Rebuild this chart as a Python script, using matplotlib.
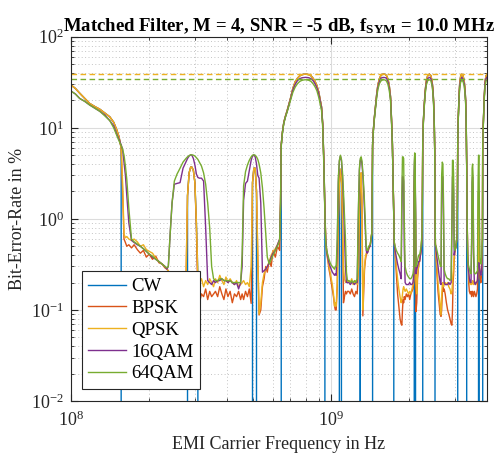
import numpy as np
import matplotlib
matplotlib.use("Agg")
import matplotlib.pyplot as plt
from matplotlib.ticker import LogLocator, NullFormatter

plt.rcParams['font.family'] = 'Liberation Serif'
plt.rcParams['mathtext.fontset'] = 'custom'
plt.rcParams['mathtext.rm'] = 'Liberation Serif'
plt.rcParams['mathtext.it'] = 'Liberation Serif:italic'
plt.rcParams['mathtext.bf'] = 'Liberation Serif:bold'

# EMI carrier frequency in MHz (segments: floor / small humps / big humps)
freq_mhz = (
    [100, 104, 108, 113, 118, 124, 129, 135, 141, 146, 150, 153, 156, 158, 160, 162, 164, 167, 171]
    + [175, 180, 185, 190, 195, 200, 206, 212, 218, 224, 230, 234]
    + [237, 241, 245, 250, 256, 263, 270, 277, 281, 285, 289, 292, 296, 300, 304, 308, 312, 318, 324, 330, 336, 342, 348, 354]
    + [360, 367, 374, 381, 388, 395, 402, 410, 418, 426, 434, 442, 450]
    + [456, 462, 470, 478, 486, 494, 500, 506, 512, 518, 524, 530, 538, 546, 554, 562, 570, 580, 590, 600, 612, 624, 636]
    + [641, 645, 652, 660, 670, 680, 690, 700, 715, 730, 745, 760, 775, 790, 800, 810, 825, 840, 855, 870, 885, 900, 912, 922, 932, 942, 950, 957]
    + [965, 975, 985, 995, 1005, 1015, 1025, 1035, 1042]
    + [1050, 1060, 1070, 1080, 1090, 1100, 1110, 1120, 1130, 1140, 1150, 1160]
    + [1175, 1190, 1205, 1220, 1235, 1250, 1265, 1280, 1290, 1300, 1310, 1320, 1330, 1340, 1350, 1360, 1370, 1380, 1390, 1400]
    + [1420, 1440, 1450, 1460, 1475, 1490, 1505, 1520, 1540, 1560, 1580, 1600, 1620, 1640, 1660, 1680, 1700, 1714, 1728, 1741, 1750, 1758]
    + [1770, 1790, 1810, 1830, 1850, 1868, 1880, 1890, 1900, 1910, 1920, 1935, 1955, 1975, 1995, 2015, 2035, 2055, 2075, 2090, 2098, 2106, 2114, 2122, 2130, 2145, 2160, 2180]
    + [2200, 2230, 2250, 2262, 2275, 2290, 2310, 2335, 2365, 2400, 2430, 2455, 2475, 2490, 2505, 2515, 2522, 2530]
    + [2545, 2565, 2590, 2615, 2640, 2660, 2675, 2690, 2705, 2720, 2735, 2760, 2790, 2820, 2850, 2880, 2910, 2930, 2945, 2960, 2975, 2990]
    + [3010, 3040, 3070, 3085, 3100, 3120, 3140, 3165, 3200, 3235, 3265, 3290, 3310, 3325, 3340, 3355, 3370]
    + [3385, 3400, 3420, 3445, 3470, 3490, 3505, 3520, 3535, 3550, 3575, 3600, 3625, 3650, 3675, 3695, 3710, 3725, 3740, 3760, 3790, 3820, 3840, 3850, 3870, 3900, 3930, 3965, 4000]
)

# bit error rate in %, 0 = no error
ber_cw = (
    [29.5, 27, 24, 21, 18.5, 17, 16, 14.5, 13.2, 11.5, 9.5, 8, 6, 0, 0, 0, 0, 0, 0]
    + [0] * 12
    + [0, 0, 0, 0, 0, 0, 0, 0, 1.8, 3.2, 3.7, 3.7, 3.4, 2.5, 0.9, 0.24, 0, 0, 0, 0, 0, 0, 0, 0]
    + [0] * 13
    + [0, 0, 0, 0, 0, 0, 2.5, 3.6, 3.6, 2.0] + [0] * 13
    + [0, 6.5, 9, 11.5, 13.5, 15.5, 18, 21, 27, 32, 35, 37.2, 38.3, 38.7, 38.8, 38.7, 38.3, 37.2, 35, 32.5, 29, 24.5, 20, 17, 11, 4, 1.2, 0]
    + [0] * 9
    + [0, 0, 0, 2.5, 3.5, 2.8, 0, 0, 0, 0, 0, 0]
    + [0] * 9 + [2.8] + [0] * 10
    + [0, 0, 6.5, 9.5, 13.5, 18, 24, 29.5, 34.5, 37.5, 38.6, 38.8, 38.6, 37.5, 34.5, 29.5, 22, 13, 7, 2.3, 1.0, 0]
    + [0] * 20 + [2.0, 3.5, 3.5, 1.0, 0, 0, 0, 0]
    + [0, 0, 0, 7, 12, 17, 25, 33, 37.5, 38.8, 37.5, 33, 27, 20, 12, 6, 1.5, 0]
    + [0] * 22
    + [0, 0, 0, 7, 13, 22, 31, 36.5, 38.8, 37, 33, 27, 20, 12, 4, 0, 0]
    + [0] * 16 + [2.0, 2.0, 0, 0, 0, 0, 0, 6.5, 11, 21, 32, 37.3, 38.8]
)

ber_bpsk = (
    [29.5, 27, 24, 21, 18.5, 17, 16, 14.5, 13.2, 11.5, 9.5, 8, 6, 2.0, 0.6, 0.55, 0.5, 0.52, 0.48]
    + [0.52, 0.46, 0.42, 0.45, 0.38, 0.41, 0.36, 0.39, 0.33, 0.32, 0.29, 0.28]
    + [0.27, 0.17, 0.15, 0.16, 0.15, 0.15, 0.16, 0.18, 1.8, 3.2, 3.7, 3.7, 3.4, 2.5, 0.8, 0.13, 0.118, 0.15, 0.14, 0.17, 0.13, 0.16, 0.14, 0.15]
    + [0.16, 0.14, 0.18, 0.15, 0.13, 0.17, 0.14, 0.16, 0.12, 0.15, 0.14, 0.16, 0.13]
    + [0.15, 0.13, 0.16, 0.14, 0.17, 0.118, 2.5, 3.6, 3.6, 2.0, 0.35, 0.088, 0.1, 0.18, 0.22, 0.3, 0.26, 0.35, 0.3, 0.45, 0.38, 0.5, 0.45]
    + [1.5, 6.5, 9, 11.5, 13.5, 15.5, 18, 21, 27, 32, 35, 37.2, 38.3, 38.7, 38.8, 38.7, 38.3, 37.2, 35, 32.5, 29, 24.5, 20, 17, 11, 4, 1.2, 0.6]
    + [0.42, 0.35, 0.28, 0.24, 0.2, 0.17, 0.14, 0.11, 0.1]
    + [0.1, 0.18, 1.0, 2.5, 3.5, 2.8, 1.0, 0.12, 0.14, 0.16, 0.15, 0.16]
    + [0.16, 0.15, 0.17, 0.15, 0.14, 0.16, 0.15, 0.3, 1.2, 2.8, 3.2, 1.3, 0.086, 0.15, 0.28, 0.35, 0.4, 0.42, 0.44, 0.46]
    + [0.52, 0.7, 6.5, 9.5, 13.5, 18, 24, 29.5, 34.5, 37.5, 38.6, 38.8, 38.6, 37.5, 34.5, 29.5, 22, 13, 7, 2.3, 1.0, 0.55]
    + [0.42, 0.25, 0.15, 0.11, 0.08, 0.07, 0.068, 0.1, 0.13, 0.12, 0.14, 0.13, 0.15, 0.14, 0.15, 0.13, 0.15, 0.16, 0.17, 0.2, 2.0, 3.5, 3.5, 0.9, 0.096, 0.12, 0.22, 0.3]
    + [0.35, 0.45, 0.7, 7, 12, 17, 25, 33, 37.5, 38.8, 37.5, 33, 27, 20, 12, 6, 1.5, 0.55]
    + [0.38, 0.25, 0.16, 0.12, 0.09, 0.085, 0.1, 0.15, 0.18, 0.16, 0.17, 0.15, 0.12, 0.1, 0.09, 0.08, 0.07, 0.068, 0.1, 0.2, 0.25, 0.35]
    + [0.45, 0.5, 0.7, 7, 13, 22, 31, 36.5, 38.8, 37, 33, 27, 20, 12, 4, 0.9, 0.4]
    + [0.33, 0.2, 0.16, 0.15, 0.16, 0.14, 0.15, 0.16, 0.15, 0.14, 0.16, 0.15, 0.14, 0.15, 0.17, 0.3, 2.0, 2.0, 0.3, 0.22, 0.2, 0.28, 0.6, 6.5, 11, 21, 32, 37.3, 38.8]
)

ber_qpsk = (
    [29.5, 27, 24, 21, 18.5, 17, 16, 14.5, 13.2, 11.5, 9.5, 8, 6, 2.5, 0.68, 0.62, 0.64, 0.6, 0.58]
    + [0.6, 0.56, 0.5, 0.52, 0.46, 0.44, 0.42, 0.37, 0.34, 0.32, 0.30, 0.28]
    + [0.27, 0.2, 0.18, 0.19, 0.18, 0.17, 0.18, 0.2, 1.8, 3.2, 3.7, 3.7, 3.4, 2.5, 0.9, 0.24, 0.2, 0.22, 0.18, 0.21, 0.19, 0.22, 0.2, 0.18]
    + [0.22, 0.2, 0.24, 0.21, 0.19, 0.23, 0.2, 0.22, 0.2, 0.19, 0.21, 0.18, 0.19]
    + [0.2, 0.21, 0.19, 0.2, 0.18, 0.3, 2.5, 3.6, 3.6, 2.0, 0.4, 0.09, 0.12, 0.2, 0.25, 0.28, 0.3, 0.34, 0.4, 0.44, 0.47, 0.52, 0.6]
    + [1.5, 6.5, 9, 11.5, 13.5, 15.5, 18, 21, 27, 32, 35, 37.2, 38.3, 38.7, 38.8, 38.7, 38.3, 37.2, 35, 32.5, 29, 24.5, 20, 17, 11, 4, 1.2, 0.6]
    + [0.45, 0.38, 0.3, 0.26, 0.22, 0.19, 0.15, 0.11, 0.12]
    + [0.11, 0.2, 1.0, 2.5, 3.5, 2.8, 1.0, 0.3, 0.22, 0.2, 0.21, 0.2]
    + [0.21, 0.2, 0.22, 0.19, 0.2, 0.21, 0.19, 0.3, 1.2, 2.8, 3.2, 1.5, 0.1, 0.2, 0.3, 0.38, 0.42, 0.44, 0.45, 0.48]
    + [0.52, 0.7, 6.5, 9.5, 13.5, 18, 24, 29.5, 34.5, 37.5, 38.6, 38.8, 38.6, 37.5, 34.5, 29.5, 22, 13, 7, 2.3, 1.0, 0.55]
    + [0.45, 0.3, 0.22, 0.17, 0.14, 0.12, 0.13, 0.15, 0.17, 0.18, 0.17, 0.16, 0.17, 0.16, 0.15, 0.16, 0.15, 0.17, 0.19, 0.22, 2.0, 3.5, 3.5, 1.0, 0.2, 0.15, 0.25, 0.3]
    + [0.35, 0.45, 0.7, 7, 12, 17, 25, 33, 37.5, 38.8, 37.5, 33, 27, 20, 12, 6, 1.5, 0.55]
    + [0.4, 0.3, 0.2, 0.15, 0.11, 0.088, 0.14, 0.19, 0.2, 0.18, 0.19, 0.2, 0.19, 0.2, 0.18, 0.17, 0.15, 0.16, 0.2, 0.25, 0.3, 0.4]
    + [0.45, 0.5, 0.7, 7, 13, 22, 31, 36.5, 38.8, 37, 33, 27, 20, 12, 4, 0.9, 0.4]
    + [0.35, 0.25, 0.2, 0.19, 0.2, 0.19, 0.2, 0.21, 0.2, 0.19, 0.21, 0.2, 0.19, 0.2, 0.22, 0.3, 2.0, 2.0, 0.3, 0.25, 0.24, 0.3, 0.6, 6.5, 11, 21, 32, 37.3, 38.8]
)

ber_16qam = (
    [25.3, 23.5, 21, 19.5, 17.8, 16.3, 15.2, 13.8, 12, 10.5, 8.5, 7.5, 6.5, 5.8, 4.2, 3.0, 1.8, 0.9, 0.58]
    + [0.55, 0.52, 0.5, 0.47, 0.44, 0.41, 0.38, 0.36, 0.34, 0.32, 0.30, 0.28]
    + [0.3, 0.7, 1.5, 2.4, 2.45, 2.5, 3.6, 4.2, 4.6, 4.9, 5.05, 5.0, 4.6, 3.9, 3.1, 2.85, 2.8, 2.8, 2.6, 0.8, 0.21, 0.2, 0.19, 0.21]
    + [0.2, 0.21, 0.21, 0.22, 0.21, 0.21, 0.2, 0.21, 0.2, 0.19, 0.2, 0.17, 0.2]
    + [0.3, 1.6, 2.45, 2.6, 3.4, 4.4, 4.9, 5.05, 4.8, 4.0, 3.0, 2.8, 1.5, 0.26, 0.27, 0.28, 0.3, 0.33, 0.38, 0.42, 0.45, 0.52, 0.6]
    + [1.5, 6.4, 8.9, 11.3, 13.3, 15.2, 17.6, 20.5, 26, 30, 33, 34.6, 35.4, 35.7, 35.8, 35.7, 35.4, 34.6, 33, 30.5, 27.5, 23.5, 19.3, 16.5, 10.7, 3.8, 1.15, 0.58]
    + [0.45, 0.38, 0.33, 0.3, 0.28, 0.26, 0.25, 0.24, 0.25]
    + [0.24, 0.5, 2.5, 4.3, 4.9, 4.4, 3.0, 1.6, 0.7, 0.3, 0.2, 0.2]
    + [0.2, 0.19, 0.2, 0.2, 0.19, 0.2, 0.2, 1.3, 3.4, 4.4, 4.6, 4.0, 3.0, 2.0, 1.2, 0.7, 0.45, 0.42, 0.43, 0.48]
    + [0.5, 0.7, 6.4, 9.3, 13.2, 17.5, 23, 28, 32.3, 35, 35.6, 35.7, 35.6, 35, 32.4, 27.8, 21, 12.5, 6.8, 2.2, 1.0, 0.55]
    + [0.45, 0.38, 0.32, 0.28, 0.25, 0.22, 1.2, 2.9, 2.9, 2.6, 0.5, 0.2, 0.19, 0.19, 0.19, 0.2, 0.19, 0.19, 0.2, 0.25, 3.5, 4.8, 4.5, 1.0, 0.25, 0.28, 0.3, 0.34]
    + [0.34, 0.45, 0.7, 6.8, 11.7, 16.5, 24, 31, 34.8, 35.8, 34.8, 31, 25.5, 19, 11.5, 5.8, 1.45, 0.53]
    + [0.45, 0.38, 0.3, 0.24, 0.2, 0.19, 2.0, 2.9, 2.9, 1.0, 0.2, 0.19, 0.19, 0.19, 0.2, 0.19, 0.2, 0.8, 2.9, 3.0, 2.0, 0.4]
    + [0.45, 0.5, 0.7, 6.9, 12.7, 21, 28.8, 33.7, 35.8, 34.2, 30.7, 25.3, 19, 11.5, 3.9, 0.9, 0.38]
    + [0.3, 0.26, 0.22, 0.2, 0.2, 0.5, 2.5, 2.9, 2.2, 0.4, 0.2, 0.19, 0.2, 0.2, 0.21, 0.3, 0.33, 0.33, 0.3, 0.25, 0.24, 0.3, 0.6, 6.4, 10.8, 20.5, 31, 34.8, 35.8]
)

ber_64qam = (
    [25.3, 23.5, 21, 19.5, 17.8, 16.3, 15.2, 13.5, 12, 10, 8.3, 7.2, 6.4, 5.8, 5.0, 3.8, 2.7, 1.3, 0.6]
    + [0.56, 0.53, 0.5, 0.47, 0.44, 0.41, 0.39, 0.36, 0.34, 0.32, 0.30, 0.29]
    + [0.3, 0.7, 1.5, 2.6, 3.1, 3.6, 4.2, 4.6, 4.8, 4.95, 5.05, 5.05, 5.0, 4.9, 4.7, 4.5, 4.2, 3.8, 3.2, 2.4, 1.5, 0.8, 0.3, 0.22]
    + [0.21, 0.21, 0.22, 0.22, 0.21, 0.21, 0.21, 0.21, 0.2, 0.2, 0.2, 0.2, 0.2]
    + [0.4, 2.3, 3.3, 3.9, 4.4, 4.8, 5.0, 5.05, 5.0, 4.8, 4.5, 4.0, 3.2, 2.2, 1.3, 0.7, 0.38, 0.32, 0.36, 0.4, 0.45, 0.5, 0.58]
    + [1.5, 6.3, 8.8, 11.2, 13.2, 15, 17.3, 20, 24.5, 28, 30.5, 32.3, 33.2, 33.6, 33.7, 33.6, 33.2, 32.3, 30.5, 28.3, 25.5, 21.5, 18, 15.5, 10, 3.5, 1.1, 0.55]
    + [0.45, 0.4, 0.36, 0.33, 0.31, 0.3, 0.29, 0.28, 0.3]
    + [0.3, 0.6, 2.8, 4.4, 5.0, 4.5, 3.3, 2.0, 1.1, 0.6, 0.26, 0.21]
    + [0.21, 0.2, 0.21, 0.2, 0.21, 0.2, 0.22, 1.5, 3.6, 4.6, 4.8, 4.3, 3.3, 2.3, 1.5, 0.9, 0.5, 0.45, 0.45, 0.5]
    + [0.52, 0.7, 6.3, 9.2, 13, 17, 22, 26.5, 30.5, 32.6, 33.5, 33.7, 33.5, 32.6, 30.2, 26, 20, 12, 6.5, 2.2, 1.0, 0.55]
    + [0.5, 0.45, 0.42, 0.4, 0.37, 0.34, 2.0, 4.8, 4.8, 4.6, 1.0, 0.3, 0.26, 0.24, 0.23, 0.22, 0.22, 0.23, 0.25, 0.3, 4.0, 5.3, 5.2, 1.2, 0.3, 0.32, 0.35, 0.4]
    + [0.4, 0.5, 0.75, 6.7, 11.5, 16, 23, 29.5, 33, 33.7, 33, 29.3, 24.3, 18.2, 11, 5.6, 1.4, 0.52]
    + [0.5, 0.45, 0.4, 0.35, 0.31, 0.3, 3.0, 4.2, 4.0, 1.5, 0.28, 0.25, 0.23, 0.22, 0.22, 0.21, 0.22, 1.0, 4.4, 4.4, 3.0, 0.5]
    + [0.45, 0.5, 0.7, 6.8, 12.5, 20.5, 27.5, 31.5, 33.7, 32, 29, 24, 18, 11, 3.8, 0.9, 0.35]
    + [0.32, 0.3, 0.28, 0.26, 0.25, 0.6, 3.6, 4.0, 3.0, 0.5, 0.26, 0.25, 0.25, 0.26, 0.27, 2.5, 5.0, 5.0, 1.0, 0.35, 0.32, 0.4, 0.6, 6.3, 10.5, 20, 28.5, 32.6, 33.7]
)

labels = ['CW', 'BPSK', 'QPSK', '16QAM', '64QAM']
colors = ['#0072BD', '#D95319', '#EDB120', '#7E2F8E', '#77AC30']
# theoretical BER in % (dashed), only the visible top ones
theory_labels = ['QPSK', '64QAM']
ber_theory = [38.9, 34.0]

series = [ber_cw, ber_bpsk, ber_qpsk, ber_16qam, ber_64qam]
for s in series:
    assert len(s) == len(freq_mhz), (len(s), len(freq_mhz))

f_hz = np.array(freq_mhz) * 1e6

fig = plt.figure(figsize=(4.99, 4.62), dpi=100)
ax = fig.add_axes([0.1423, 0.132, 0.8337, 0.7885])
ax.set_xscale('log')
ax.set_yscale('log')

for s, lab, c in zip(series, labels, colors):
    ax.plot(f_hz, s, color=c, lw=1.0, label=lab)
for t, lab in zip(ber_theory, theory_labels):
    ax.axhline(t, color=colors[labels.index(lab)], lw=1.0, ls=(0, (4, 2.5)))

ax.set_xlim(1e8, 4e9)
ax.set_ylim(1e-2, 1e2)

ax.xaxis.set_major_locator(LogLocator(base=10, numticks=10))
ax.xaxis.set_minor_locator(LogLocator(base=10, subs=np.arange(2, 10), numticks=20))
ax.xaxis.set_minor_formatter(NullFormatter())
ax.yaxis.set_major_locator(LogLocator(base=10, numticks=10))
ax.yaxis.set_minor_locator(LogLocator(base=10, subs=np.arange(2, 10), numticks=20))
ax.yaxis.set_minor_formatter(NullFormatter())

ax.tick_params(which='both', direction='in', top=True, right=True, colors='#262626', labelsize=13)
ax.tick_params(which='major', length=5, width=0.8)
ax.tick_params(which='minor', length=2.5, width=0.6)
ax.tick_params(axis='x', which='major', pad=7)
ax.tick_params(axis='y', which='major', pad=5)
ax.grid(True, which='major', color='#dcdcdc', lw=0.8, ls='-')
ax.grid(True, which='minor', color='#c4c4c4', lw=0.7, ls=(0, (1, 2.5)))
ax.set_axisbelow(True)
for sp in ax.spines.values():
    sp.set_color('#262626')
    sp.set_linewidth(0.8)

ax.set_xlabel('EMI Carrier Frequency in Hz', fontsize=13, color='#262626', labelpad=4)
ax.set_ylabel('Bit-Error-Rate in %', fontsize=13, color='#262626')
ax.set_title('Matched Filter, M = 4, SNR = -5 dB, $\\mathbf{f_{SYM}}$ = 10.0 MHz',
             fontsize=13.5, fontweight='bold', pad=4)

leg = ax.legend(loc='lower left', bbox_to_anchor=(0.026, 0.033), borderaxespad=0,
                fontsize=13.5, fancybox=False, framealpha=1, edgecolor='#262626',
                handlelength=2.0, handletextpad=0.3, labelspacing=0.25, borderpad=0.35)
leg.get_frame().set_linewidth(0.8)

fig.savefig('out.png', dpi=100)
